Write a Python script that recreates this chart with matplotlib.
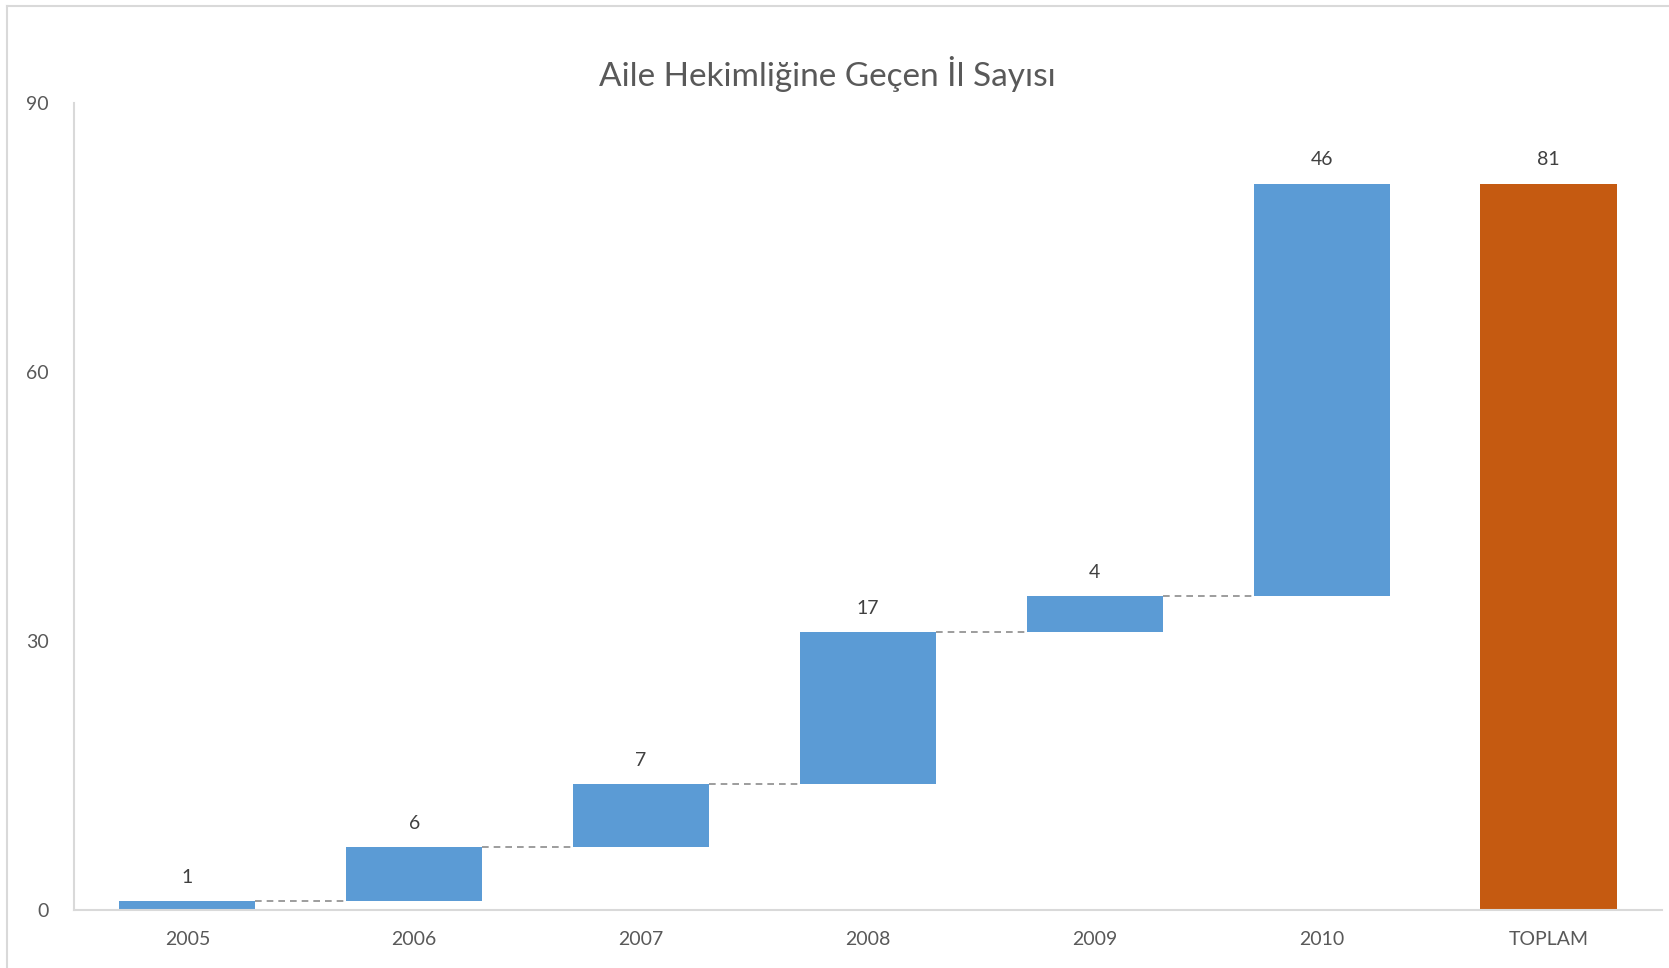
import numpy as np
import matplotlib.pyplot as plt
from matplotlib.lines import Line2D

plt.rcParams["font.family"] = ["Lato", "DejaVu Sans"]

# veri
kategoriler = ["2005", "2006", "2007", "2008", "2009", "2010", "TOPLAM"]
artislar = [1, 6, 7, 17, 4, 46]
toplam = 81
y_ticks = [0, 30, 60, 90]

mavi = "#5B9BD5"
turuncu = "#C55A11"

bitis = np.cumsum(artislar)
baslangic = bitis - np.array(artislar)
x = np.arange(len(kategoriler))
w = 0.6

fig = plt.figure(figsize=(16.69, 9.68), dpi=100)
ax = fig.add_axes([0.0443, 0.0599, 0.9515, 0.8337])

ax.bar(x[:-1], artislar, bottom=baslangic, width=w, color=mavi)
ax.bar(x[-1], toplam, width=w, color=turuncu)

# bağlantı çizgileri
for i in range(len(artislar) - 1):
    ax.plot([x[i] + w / 2, x[i + 1] - w / 2], [bitis[i], bitis[i]],
            ls=(0, (4, 3)), color="#8c8c8c", lw=1.2)

# değer etiketleri
etiketler = artislar + [toplam]
tepeler = list(bitis) + [toplam]
for xi, val, top in zip(x, etiketler, tepeler):
    ax.annotate(str(val), (xi, top), xytext=(0, 11), textcoords="offset points",
                ha="center", va="bottom", fontsize=14, color="#404040")

ax.set_xlim(-0.5, len(kategoriler) - 0.5)
ax.set_ylim(0, 90)
ax.set_yticks(y_ticks)
ax.set_xticks(x)
ax.set_xticklabels(kategoriler)
ax.tick_params(axis="both", length=0, labelsize=14, labelcolor="#595959")
ax.tick_params(axis="y", pad=18)
ax.tick_params(axis="x", pad=15)
for s in ["top", "right"]:
    ax.spines[s].set_visible(False)
ax.spines["left"].set_color("#d9d9d9")
ax.spines["bottom"].set_color("#d9d9d9")
ax.spines["left"].set_linewidth(1.5)
ax.spines["bottom"].set_linewidth(1.5)

fig.text(0.496, 1 - 74.5 / 968, "Aile Hekimliğine Geçen İl Sayısı",
         ha="center", va="center", fontsize=24, color="#595959")

# çerçeve
fig.add_artist(Line2D([7 / 1669, 7 / 1669], [0, 1 - 6 / 968],
                      color="#d9d9d9", lw=1.5, transform=fig.transFigure))
fig.add_artist(Line2D([7 / 1669, 1], [1 - 6 / 968, 1 - 6 / 968],
                      color="#d9d9d9", lw=1.5, transform=fig.transFigure))

fig.savefig("out.png", dpi=100)
